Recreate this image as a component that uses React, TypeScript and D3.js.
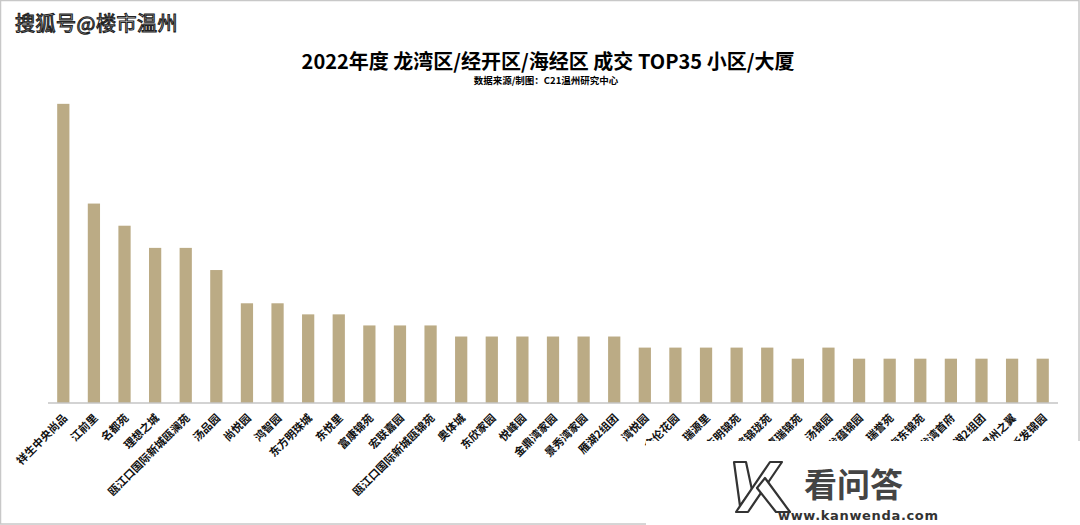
import React from "react";
import * as d3 from "d3";

const categories: string[] = [
  "祥生中央尚品", "江前里", "名都苑", "理想之城", "瓯江口国际新城瓯澜苑", "汤品园", "尚悦园", "鸿智园",
  "东方明珠城", "东悦里", "富康锦苑", "宏联嘉园", "瓯江口国际新城瓯锦苑", "奥体城", "东欣家园", "悦峰园",
  "金鼎湾家园", "景秀湾家园", "雁湖2组团", "湾悦园", "金伦花园", "瑞源里", "东明锦苑", "滨锦珑苑",
  "嘉瑞锦苑", "汤锦园", "龙蕴锦园", "瑞誉苑", "海东锦苑", "龙湾首府", "星湖2组团", "温州之翼", "新发锦园",
];
const values: number[] = [
  27, 18, 16, 14, 14, 12, 9, 9,
  8, 8, 7, 7, 7, 6, 6, 6,
  6, 6, 6, 5, 5, 5, 5, 5,
  4, 5, 4, 4, 4, 4, 4, 4, 4,
];
const title = "2022年度 龙湾区/经开区/海经区 成交 TOP35 小区/大厦";
const subtitle = "数据来源/制图：C21温州研究中心";
const sourceMark = "搜狐号@楼市温州";

const W = 1080;
const H = 525;
const CJK = "'Noto Sans CJK SC', 'Noto Sans', sans-serif";

export default function App() {
  const x = d3.scaleBand<string>().domain(categories).range([48, 1058]).paddingInner(0.6).paddingOuter(0.3);
  const y = d3.scaleLinear().domain([0, 30]).range([403, 403 - 30 * 11.08]);
  const base = y(0);

  return (
    <svg width={W} height={H} viewBox={`0 0 ${W} ${H}`} style={{ position: "absolute", left: 0, top: 0, background: "#fff" }}>
      <rect x={0.5} y={0.5} width={W - 1.5} height={H - 1.5} fill="#fff" stroke="#c8c8c8" strokeWidth={1.5} />
      <text x={15} y={31} fontFamily={CJK} fontSize={20} fill="#fff" stroke="#222" strokeWidth={1.1} style={{ letterSpacing: "0.5px" }}>
        {sourceMark}
      </text>
      <text x={548} y={69} textAnchor="middle" fontFamily={CJK} fontWeight="bold" fontSize={20} fill="#000">
        {title}
      </text>
      <text x={546} y={84} textAnchor="middle" fontFamily={CJK} fontWeight="bold" fontSize={9.5} fill="#000">
        {subtitle}
      </text>
      {categories.map((c, i) => (
        <rect key={c} x={x(c)} y={y(values[i])} width={x.bandwidth()} height={base - y(values[i])} fill="#bbab85" />
      ))}
      <line x1={48} x2={1058} y1={base} y2={base} stroke="#c4c4c4" strokeWidth={1.5} />
      {categories.map((c) => {
        const cx = (x(c) as number) + x.bandwidth() / 2;
        return (
          <text
            key={"l" + c}
            transform={`translate(${cx + 2},${base + 13}) rotate(-45)`}
            textAnchor="end"
            dy="0.35em"
            fontFamily={CJK}
            fontWeight="bold"
            fontSize={11}
            fill="#111"
          >
            {c}
          </text>
        );
      })}
      {/* bottom-right watermark mask */}
      <rect x={646} y={441} width={W - 646} height={H - 441} fill="#fff" />
      <g fill="#fff" stroke="#333" strokeWidth={2.2} strokeLinejoin="round">
        <path d="M734,462 L746,462 L752,490 L740,506 Z" />
        <path d="M770,462 L782,462 L748,512 L736,512 Z" />
        <path d="M757,488 L765,478 L790,512 L776,512 Z" />
      </g>
      <text x={804} y={497} fontFamily={CJK} fontWeight="bold" fontSize={33} fill="#444">看问答</text>
      <text x={778} y={520} fontFamily="'DejaVu Sans', sans-serif" fontWeight="bold" fontSize={13} fill="#333" textLength={160}>
        www.kanwenda.com
      </text>
    </svg>
  );
}
